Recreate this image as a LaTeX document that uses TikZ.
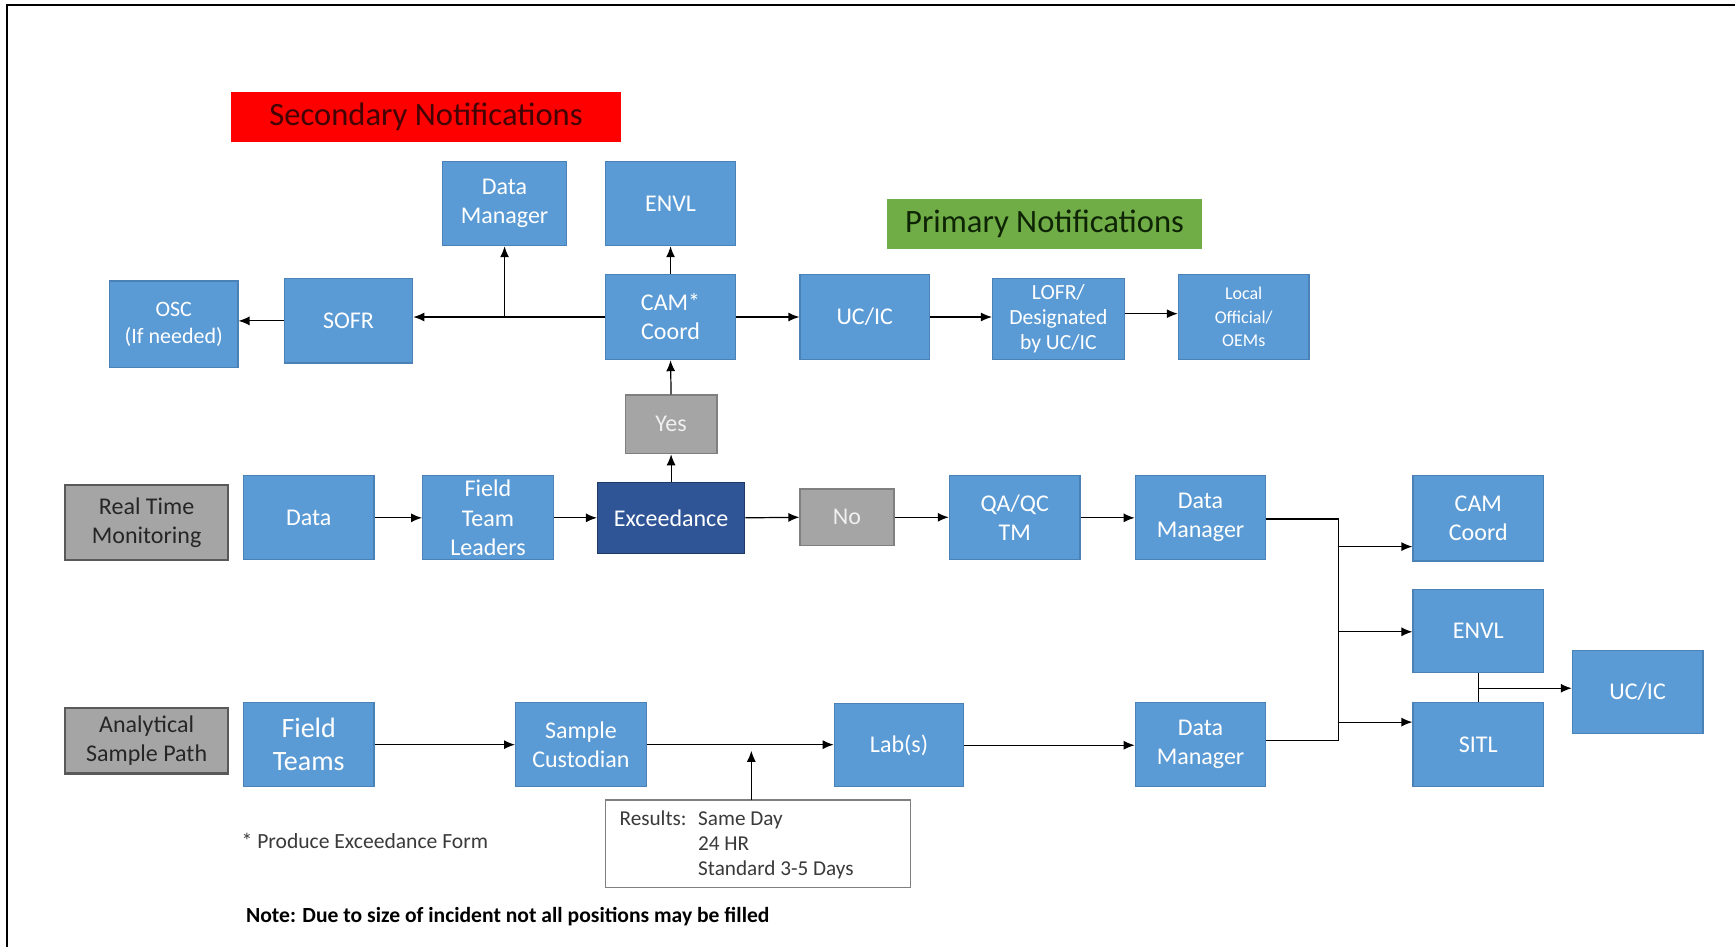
\documentclass[tikz,border=0pt]{standalone}
\usepackage{fontspec}
\setmainfont{Carlito}
\usetikzlibrary{arrows.meta,calc}
\def\pxu{0.55325pt}
\definecolor{boxblue}{HTML}{5B9BD5}
\definecolor{boxline}{HTML}{4A82B8}
\definecolor{excblue}{HTML}{2F5597}
\definecolor{excline}{HTML}{203864}
\definecolor{graybox}{HTML}{A5A5A5}
\definecolor{grayline}{HTML}{7F7F7F}
\definecolor{darkline}{HTML}{595959}
\definecolor{textgray}{HTML}{3A3A3A}
\definecolor{hdrred}{HTML}{FF0000}
\definecolor{hdrredtext}{HTML}{420404}
\definecolor{hdrgreen}{HTML}{70AD47}
\definecolor{hdrgreentext}{HTML}{0E2405}
\tikzset{
  sz/.style 2 args={minimum width=#1*\pxu, minimum height=#2*\pxu},
  box/.style={draw=boxline, fill=boxblue, text=white, line width=0.6pt, inner sep=0pt,
    align=center, font=\fontsize{12}{14.5}\selectfont},
  excbox/.style={box, draw=excline, fill=excblue},
  graybx/.style={box, draw=grayline, fill=graybox, text={rgb,255:red,240;green,240;blue,240}},
  labelbx/.style={box, draw=darkline, line width=1.1pt, fill=graybox, text={rgb,255:red,38;green,38;blue,38}},
  hdr/.style={inner sep=0pt, align=center, font=\fontsize{16.3}{19}\selectfont},
  arr/.style={draw=black, line width=0.6pt, -{Latex[length=5.5pt,width=4.5pt]}},
  ln/.style={draw=black, line width=0.6pt},
}
\begin{document}
\begin{tikzpicture}[x=0.55325pt, y=-0.55325pt]
\useasboundingbox (0,0) rectangle (1568,855);
\fill[white] (0,0) rectangle (1568,855);
% frame
\draw[line width=1.1pt] (6.5,856) -- (6.5,4.5) -- (1569,4.5);

% headers
\node[hdr, fill=hdrred, text=hdrredtext, sz={352}{45}] (sec) at (385,105.5) {Secondary Notifications};
\node[hdr, fill=hdrgreen, text=hdrgreentext, sz={284}{45}] (prim) at (944,202.5) {Primary Notifications};

% top row
\node[box, sz={112}{76}] (dmtop) at (456,184) {Data\\Manager};
\node[box, sz={118}{76}] (envltop) at (606,184) {ENVL};
\node[box, sz={116}{78}, font=\fontsize{11}{13.3}\selectfont] (osc) at (157,293) {OSC\\(If needed)};
\node[box, sz={116}{76}] (sofr) at (315,290) {SOFR};
\node[box, sz={118}{77}] (cam) at (606,286.5) {CAM*\\Coord};
\node[box, sz={117}{77}] (ucic) at (781.5,286.5) {UC/IC};
\node[box, sz={119}{73}, font=\fontsize{10.8}{12.5}\selectfont] (lofr) at (956.5,288.5) {LOFR/\\Designated\\by UC/IC};
\node[box, sz={118}{77}, font=\fontsize{9}{11.7}\selectfont] (local) at (1124,286.5) {Local\\Official/\\OEMs};
\node[graybx, sz={83}{53}] (yes) at (606.5,383.5) {Yes};

% middle row
\node[labelbx, sz={147}{68}] (rtm) at (132.5,472) {Real Time\\Monitoring};
\node[box, sz={118}{76}] (data) at (279,468) {Data};
\node[box, sz={118}{76}, font=\fontsize{12}{14.7}\selectfont] (ftl) at (441,468) {Field\\Team\\Leaders};
\node[excbox, sz={133}{64}] (exc) at (606.5,468) {Exceedance};
\node[graybx, sz={85}{51}] (no) at (765.5,467.5) {No};
\node[box, sz={118}{76}] (qaqc) at (917,468) {QA/QC\\TM};
\node[box, sz={118}{76}] (dmmid) at (1085,468) {Data\\Manager};
\node[box, sz={118}{77}] (camr) at (1336,468.5) {CAM\\Coord};
\node[box, sz={118}{75}] (envlr) at (1336,570.5) {ENVL};
\node[box, sz={118}{76}] (sitl) at (1336,673) {SITL};
\node[box, sz={118}{75}] (ucicr) at (1480,625.5) {UC/IC};

% bottom row
\node[labelbx, sz={147}{59}] (asp) at (132.5,669.5) {Analytical\\Sample Path};
\node[box, sz={118}{76}, font=\fontsize{14}{16.6}\selectfont] (fteams) at (279,673) {Field\\Teams};
\node[box, sz={118}{76}] (sc) at (525,673) {Sample\\Custodian};
\node[box, sz={117}{75}] (labs) at (812.5,673.5) {Lab(s)};
\node[box, sz={118}{76}] (dmbot) at (1085,673) {Data\\Manager};

% results box
\node[draw=grayline, fill=white, line width=0.6pt, sz={276}{79}, inner sep=0pt] (results) at (685,762.5) {};
\node[anchor=west, inner sep=0pt, align=left, text=textgray, font=\fontsize{10.6}{12.4}\selectfont] (restext) at (559.6,763.5)
  {\makebox[39.3pt][l]{Results:}Same Day\\\hspace*{39.3pt}24 HR\\\hspace*{39.3pt}Standard 3-5 Days};

% notes
\node[anchor=west, inner sep=0pt, text=textgray, font=\fontsize{10.8}{12}\selectfont] (star) at (218,760) {* Produce Exceedance Form};
\node[anchor=west, inner sep=0pt, text=black, font=\bfseries\fontsize{10.8}{12}\selectfont] (note) at (222,828.5) {Note: Due to size of incident not all positions may be filled};

% top connectors
\draw[arr] (cam.west) -- (cam.west -| sofr.east);
\draw[arr] (dmtop.south |- cam.west) -- (dmtop.south);
\draw[arr] (sofr.west) -- (sofr.west -| osc.east);
\draw[arr] (cam.north) -- (envltop.south);
\draw[arr] (cam.east) -- (cam.east -| ucic.west);
\draw[arr] (ucic.east) -- (ucic.east -| lofr.west);
\coordinate (lofrout) at ($(lofr.east)+(0,-5)$);
\draw[arr] (lofrout) -- (lofrout -| local.west);
\draw[arr] (yes.north) -- (cam.south);
\draw[arr] (exc.north) -- (yes.south);

% middle connectors
\draw[arr] (data.east) -- (ftl.west);
\draw[arr] (ftl.east) -- (exc.west);
\draw[arr] (exc.east) -- (no.west);
\draw[arr] (no.east) -- (no.east -| qaqc.west);
\draw[arr] (qaqc.east) -- (dmmid.west);

% bus
\coordinate (busT) at (1210,469);
\coordinate (busB) at (1210,669.5);
\coordinate (b1) at (1210,494);
\coordinate (b2) at (1210,571);
\coordinate (b3) at (1210,652.6);
\draw[ln] (dmmid.east |- busT) -- (busT) -- (busB) -- (dmbot.east |- busB);
\draw[arr] (b1) -- (b1 -| camr.west);
\draw[arr] (b2) -- (b2 -| envlr.west);
\draw[arr] (b3) -- (b3 -| sitl.west);
\draw[ln] (envlr.south) -- (sitl.north);
\coordinate (jn) at (1336,622);
\draw[arr] (jn) -- (jn -| ucicr.west);

% bottom connectors
\draw[arr] (fteams.east) -- (fteams.east -| sc.west);
\draw[arr] (sc.east) -- (sc.east -| labs.west);
\draw[arr] (labs.east) -- (labs.east -| dmbot.west);
\coordinate (rtop) at (679,723);
\coordinate (rtip) at (679,678.5);
\draw[arr] (rtop) -- (rtip);
\end{tikzpicture}
\end{document}
